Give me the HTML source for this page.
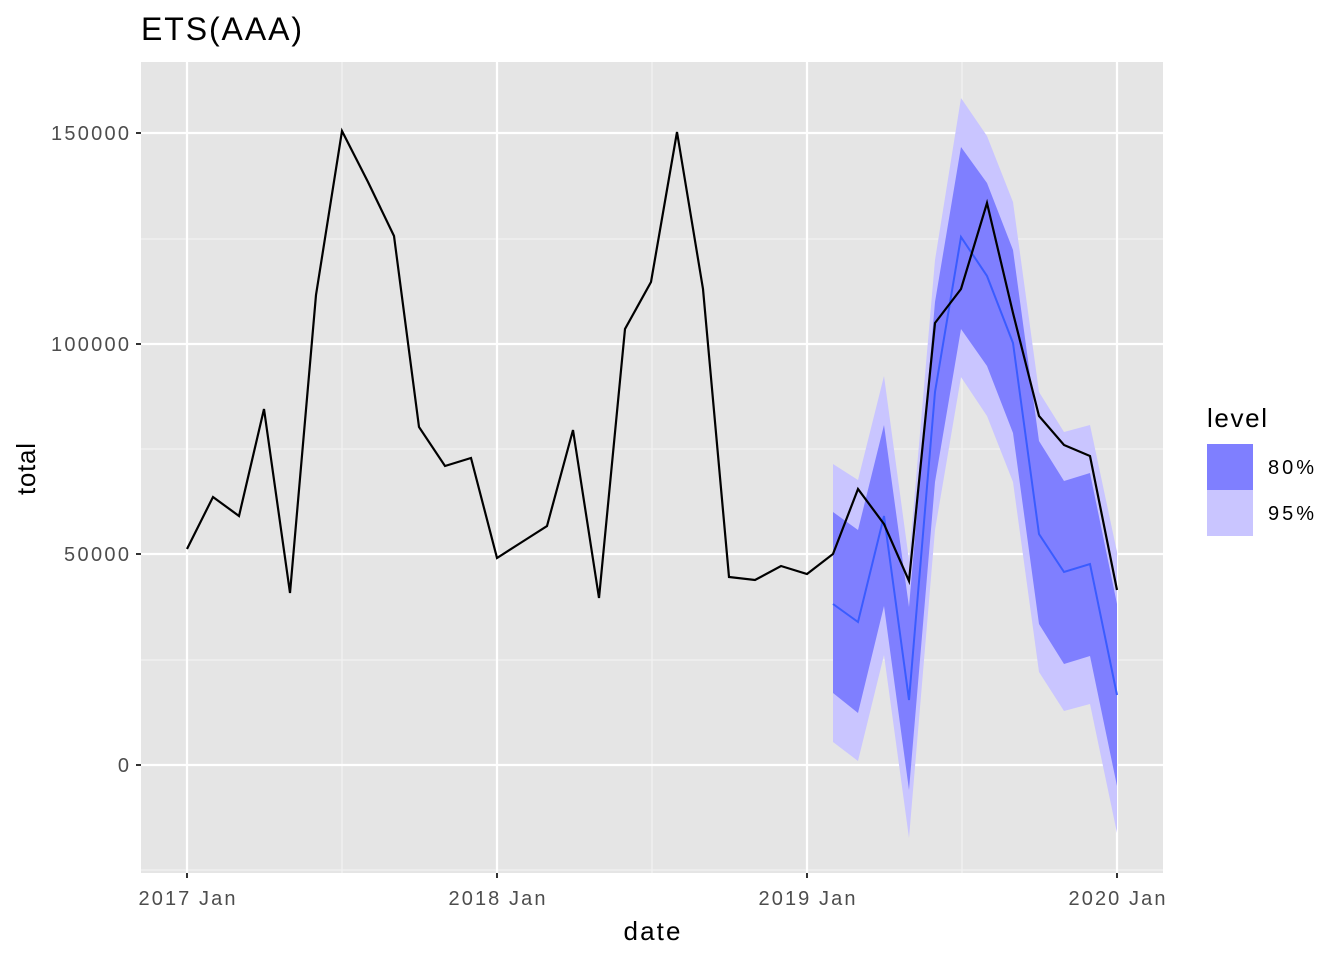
<!DOCTYPE html>
<html><head><meta charset="utf-8"><style>body{margin:0;background:#fff}svg{display:block}text{font-family:"Liberation Sans",Arial,sans-serif}</style></head><body>
<svg width="1344" height="960" xmlns="http://www.w3.org/2000/svg">
<rect x="141" y="62" width="1022" height="811" fill="#e5e5e5"/>
<g stroke="#f2f2f2" stroke-width="1.2">
<line x1="141" x2="1163" y1="870" y2="870"/><line x1="141" x2="1163" y1="660" y2="660"/><line x1="141" x2="1163" y1="449" y2="449"/><line x1="141" x2="1163" y1="239" y2="239"/>
<line y1="62" y2="873" x1="342" x2="342"/><line y1="62" y2="873" x1="652" x2="652"/><line y1="62" y2="873" x1="962" x2="962"/>
</g>
<g stroke="#fff" stroke-width="2.2">
<line x1="141" x2="1163" y1="765" y2="765"/><line x1="141" x2="1163" y1="554" y2="554"/><line x1="141" x2="1163" y1="344" y2="344"/><line x1="141" x2="1163" y1="133" y2="133"/>
<line y1="62" y2="873" x1="187" x2="187"/><line y1="62" y2="873" x1="497" x2="497"/><line y1="62" y2="873" x1="807" x2="807"/><line y1="62" y2="873" x1="1117" x2="1117"/>
</g>
<polygon fill="#c9c5ff" points="833,464 858,480 884,376 909,560 935,260 961,98 987,136 1013,202 1039,392 1064,432 1090,425 1117,552 1117,833 1090,704 1064,711 1039,672 1013,482 987,416 961,377 935,530 909,838 884,655 858,761 833,742"/>
<polygon fill="#7f7fff" points="833,512 858,530 884,425 909,607 935,302 961,147 987,183 1013,250 1039,441 1064,481 1090,473 1117,604 1117,786 1090,656 1064,664 1039,624 1013,433 987,366 961,329 935,482 909,790 884,606 858,713 833,693"/>
<polyline fill="none" stroke="#3a5cff" stroke-width="2" points="833,604 858,622 884,516 909,700 935,392 961,237 987,276 1013,343 1039,534 1064,572 1090,564 1117,695"/>
<polyline fill="none" stroke="#000" stroke-width="2.2" points="187,549 213,497 239,516 264,409 290,593 316,295 342,131 368,182 394,236 419,427 445,466 471,458 497,558 522,542 547,526 573,430 599,598 625,329 651,282 677,132 703,289 729,577 755,580 781,566 807,574 833,554 858,489 884,524 909,581 935,323 961,289 987,203 1013,313 1039,416 1064,445 1090,456 1117,590"/>
<g stroke="#333" stroke-width="2"><line x1="136" x2="141" y1="765" y2="765"/><line x1="136" x2="141" y1="554" y2="554"/><line x1="136" x2="141" y1="344" y2="344"/><line x1="136" x2="141" y1="133" y2="133"/>
<line y1="873" y2="878" x1="187" x2="187"/><line y1="873" y2="878" x1="497" x2="497"/><line y1="873" y2="878" x1="807" x2="807"/><line y1="873" y2="878" x1="1117" x2="1117"/></g>
<g font-size="20" fill="#4d4d4d" text-anchor="end"><text x="129" y="772" textLength="13">0</text><text x="129" y="561" textLength="65">50000</text><text x="129" y="351" textLength="78">100000</text><text x="129" y="140" textLength="78">150000</text></g>
<g font-size="20" fill="#4d4d4d" text-anchor="middle"><text x="187" y="905" textLength="97">2017 Jan</text><text x="497" y="905" textLength="97">2018 Jan</text><text x="807" y="905" textLength="97">2019 Jan</text><text x="1117" y="905" textLength="97">2020 Jan</text></g>
<text x="652" y="940" font-size="26" text-anchor="middle" textLength="57">date</text>
<text x="35" y="469" font-size="26" text-anchor="middle" transform="rotate(-90 35 469)" textLength="52">total</text>
<text x="141" y="40" font-size="32" textLength="161">ETS(AAA)</text>
<text x="1207" y="427" font-size="26" textLength="60">level</text>
<rect x="1207" y="444" width="46" height="46" fill="#7f7fff"/><rect x="1207" y="490" width="46" height="46" fill="#c9c5ff"/>
<text x="1268" y="474" font-size="20" textLength="46">80%</text><text x="1268" y="520" font-size="20" textLength="46">95%</text>
</svg></body></html>
